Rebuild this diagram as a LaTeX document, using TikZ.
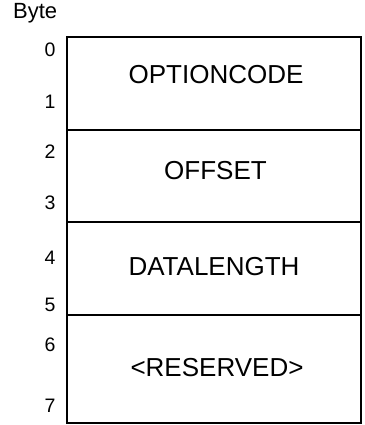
\documentclass[tikz,border=0pt]{standalone}
\usepackage{fontspec}
\setmainfont{Liberation Sans}
\usetikzlibrary{positioning}

\begin{document}
\begin{tikzpicture}[x=1pt,y=-1pt,
    field/.style={draw, line width=1.6pt, minimum width=294pt, inner sep=0pt},
    fieldname/.style={font=\fontsize{26}{30}\selectfont, inner sep=0pt},
    bytenum/.style={font=\fontsize{19.5}{22}\selectfont, inner sep=0pt}]
  \useasboundingbox (0,0) rectangle (364,425);
  % two-byte fields, top to bottom
  \node[field, minimum height=93pt] (optrow) at (214,83.5) {};
  \node[field, minimum height=92pt] (offrow) at (214,176) {};
  \node[field, minimum height=93pt] (lenrow) at (214,268.5) {};
  \node[field, minimum height=108pt] (resrow) at (214,369) {};
  \node[fieldname] (optname) at (216,74.5) {OPTIONCODE};
  \node[fieldname] (offname) at (215.5,171) {OFFSET};
  \node[fieldname] (lenname) at (214,266.5) {DATALENGTH};
  \node[fieldname] (resname) at (217,367.5) {<RESERVED>};
  % byte offsets down the left side
  \node[font=\fontsize{22}{26}\selectfont, inner sep=0pt, anchor=base west] (bytehead) at (13,19) {Byte};
  \node[bytenum] (b0) at (50,50) {0};
  \node[bytenum] (b1) at (50,102) {1};
  \node[bytenum] (b2) at (50,152) {2};
  \node[bytenum] (b3) at (50,203) {3};
  \node[bytenum] (b4) at (50,258) {4};
  \node[bytenum] (b5) at (50,305) {5};
  \node[bytenum] (b6) at (50,345) {6};
  \node[bytenum] (b7) at (50,406) {7};
\end{tikzpicture}
\end{document}
